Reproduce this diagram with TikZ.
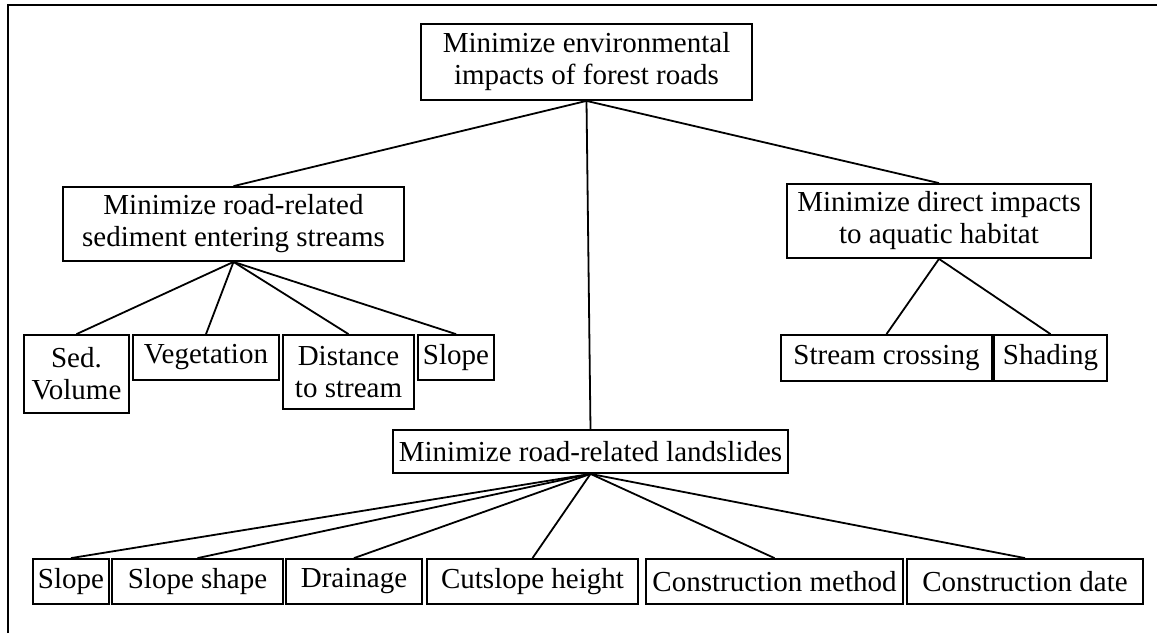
\documentclass[tikz,border=0pt]{standalone}
\usepackage{fontspec}
\setmainfont{Liberation Serif}
\begin{document}
\begin{tikzpicture}[x=1pt,y=-1pt,
  box/.style={draw, line width=1.8pt, inner sep=0pt, align=center,
    font=\fontsize{29}{32}\selectfont},
  link/.style={line width=1.8pt}]
\useasboundingbox (0,0) rectangle (1157,633);
% outer frame (left and top edges)
\draw[line width=2.6pt] (8,633) -- (8,5) -- (1157,5);

% goal
\node[box, minimum width=331pt, minimum height=76pt] (goal) at (586.5,62)
  {Minimize environmental\\impacts of forest roads};

% objectives
\node[box, minimum width=341pt, minimum height=74pt] (sed) at (233.5,224)
  {Minimize road-related\\sediment entering streams};
\node[box, minimum width=304pt, minimum height=74pt] (aqua) at (939,221)
  {Minimize direct impacts\\to aquatic habitat};
\node[box, minimum width=395pt, minimum height=43pt] (land) at (590.5,451.5)
  {Minimize road-related landslides};

% sediment criteria
\node[box, minimum width=105pt, minimum height=78pt] (vol) at (76.5,374) {Sed.\\Volume};
\node[box, minimum width=146pt, minimum height=45pt] (veg) at (206,357.5) {Vegetation};
\node[box, minimum width=131pt, minimum height=74pt] (dist) at (348.5,372) {Distance\\to stream};
\node[box, minimum width=76pt, minimum height=45pt] (sslope) at (456,357.5) {Slope};

% aquatic habitat criteria
\node[box, minimum width=211pt, minimum height=46pt] (cross) at (886.5,358) {Stream crossing};
\node[box, minimum width=113pt, minimum height=46pt] (shade) at (1050.5,358) {Shading};

% landslide criteria
\node[box, minimum width=76pt, minimum height=45pt] (lslope) at (71,581.5) {Slope};
\node[box, minimum width=171pt, minimum height=45pt] (shape) at (197.5,581.5) {Slope shape};
\node[box, minimum width=136pt, minimum height=45pt] (drain) at (354,581.5) {Drainage};
\node[box, minimum width=211pt, minimum height=45pt] (cut) at (532.5,581.5) {Cutslope height};
\node[box, minimum width=257pt, minimum height=45pt] (method) at (774.5,581.5) {Construction method};
\node[box, minimum width=236pt, minimum height=45pt] (date) at (1025,581.5) {Construction date};

% connectors
\foreach \c in {sed,aqua,land} \draw[link] (goal.south) -- (\c.north);
\foreach \c in {vol,veg,dist,sslope} \draw[link] (sed.south) -- (\c.north);
\foreach \c in {cross,shade} \draw[link] (aqua.south) -- (\c.north);
\foreach \c in {lslope,shape,drain,cut,method,date} \draw[link] (land.south) -- (\c.north);
\end{tikzpicture}
\end{document}
